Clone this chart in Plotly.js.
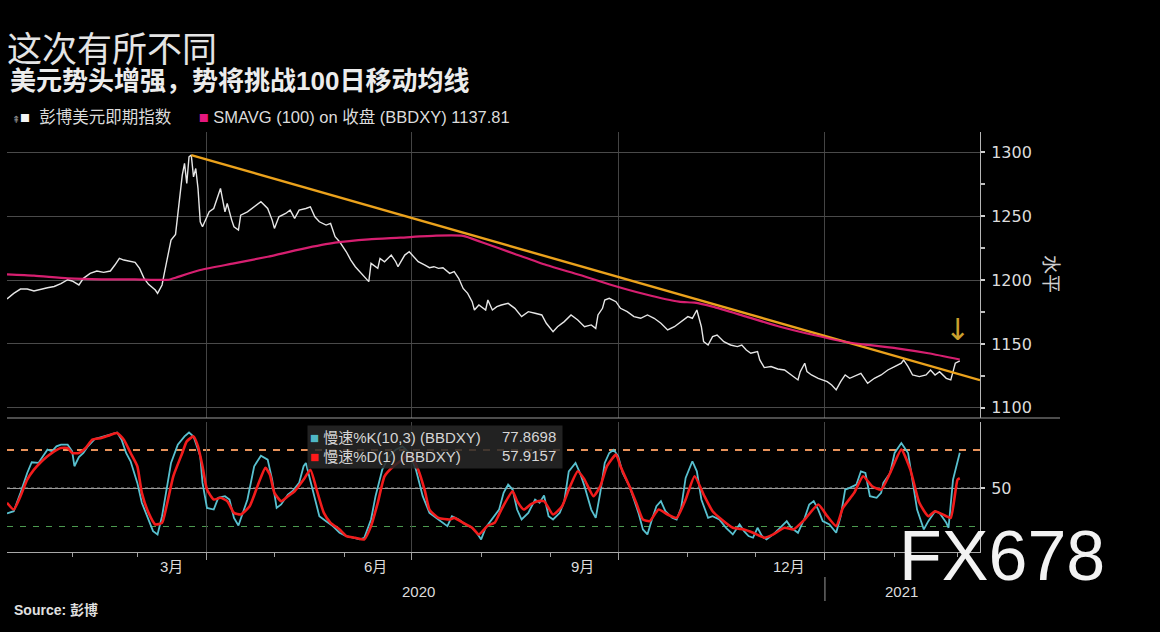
<!DOCTYPE html>
<html><head><meta charset="utf-8">
<script src="https://cdn.plot.ly/plotly-3.0.1.min.js"></script>
<style>html,body{margin:0;padding:0;background:#000;}#chart{width:1160px;height:632px;}</style>
</head><body><div id="chart"></div>
<script>
// ---------------- data ----------------
const priceDates = ['2020-01-03','2020-01-06','2020-01-09','2020-01-12','2020-01-15','2020-01-18','2020-01-21','2020-01-24','2020-01-27','2020-01-30',
'2020-02-01','2020-02-04','2020-02-06','2020-02-09','2020-02-12','2020-02-15','2020-02-18','2020-02-20','2020-02-22','2020-02-24','2020-02-27','2020-02-29',
'2020-03-02','2020-03-04','2020-03-06','2020-03-09','2020-03-10','2020-03-12','2020-03-13','2020-03-15','2020-03-16','2020-03-18','2020-03-19','2020-03-20',
'2020-03-21','2020-03-22','2020-03-23','2020-03-24','2020-03-25','2020-03-26','2020-03-27','2020-03-28','2020-03-29','2020-03-30',
'2020-04-01','2020-04-02','2020-04-04','2020-04-06','2020-04-07','2020-04-09','2020-04-10','2020-04-12','2020-04-13','2020-04-15','2020-04-16','2020-04-19',
'2020-04-21','2020-04-23','2020-04-25','2020-04-28','2020-04-30','2020-05-01','2020-05-03','2020-05-06','2020-05-08','2020-05-10','2020-05-12','2020-05-15',
'2020-05-17','2020-05-19','2020-05-21','2020-05-24','2020-05-26','2020-05-28','2020-05-30','2020-06-02','2020-06-04','2020-06-06','2020-06-08','2020-06-10',
'2020-06-12','2020-06-13','2020-06-16','2020-06-17','2020-06-19','2020-06-22','2020-06-24','2020-06-25','2020-06-28','2020-06-30',
'2020-07-02','2020-07-04','2020-07-07','2020-07-09','2020-07-11','2020-07-13','2020-07-15','2020-07-18','2020-07-20','2020-07-22','2020-07-24','2020-07-26',
'2020-07-28','2020-07-29','2020-07-31','2020-08-03','2020-08-04','2020-08-06','2020-08-08','2020-08-10','2020-08-13','2020-08-16','2020-08-19','2020-08-22',
'2020-08-25','2020-08-28','2020-08-30','2020-09-02','2020-09-04','2020-09-07','2020-09-10','2020-09-13','2020-09-16','2020-09-19','2020-09-21','2020-09-22',
'2020-09-24','2020-09-25','2020-09-27','2020-09-30','2020-10-02','2020-10-05','2020-10-08','2020-10-11','2020-10-14','2020-10-17','2020-10-20','2020-10-23',
'2020-10-26','2020-10-29','2020-11-01','2020-11-03','2020-11-05','2020-11-07','2020-11-08','2020-11-10','2020-11-12','2020-11-14','2020-11-17','2020-11-20',
'2020-11-23','2020-11-25','2020-11-27','2020-11-29','2020-12-02','2020-12-03','2020-12-05','2020-12-08','2020-12-11','2020-12-14','2020-12-17','2020-12-20',
'2020-12-21','2020-12-23','2020-12-24','2020-12-26','2020-12-29','2021-01-02','2021-01-04','2021-01-06','2021-01-08','2021-01-10','2021-01-12','2021-01-15',
'2021-01-17','2021-01-20','2021-01-23','2021-01-26','2021-01-29','2021-02-01','2021-02-04','2021-02-05','2021-02-07','2021-02-09','2021-02-12','2021-02-15',
'2021-02-17','2021-02-19','2021-02-21','2021-02-24','2021-02-26','2021-02-27','2021-02-28','2021-03-02'];
const priceValues = [1185.2,1189.6,1193.0,1193.0,1191.5,1193.0,1194.0,1195.0,1197.2,1200.3,
1199.3,1196.2,1201.4,1205.3,1207.1,1206.1,1207.1,1211.8,1217.0,1215.7,1214.4,1213.9,
1209.2,1201.4,1196.7,1192.2,1189.6,1196.2,1205.3,1224.9,1231.4,1235.8,1252.2,1269.2,
1282.2,1291.4,1275.7,1296.6,1297.9,1280.9,1287.4,1271.8,1245.7,1241.8,
1249.6,1253.5,1256.1,1266.6,1271.8,1253.5,1260.0,1247.0,1241.8,1239.2,1250.9,1253.5,
1256.1,1259.3,1261.4,1256.1,1247.0,1240.5,1249.6,1252.2,1254.8,1248.3,1254.8,1256.1,
1257.4,1249.6,1245.7,1243.1,1244.4,1234.0,1230.1,1222.2,1215.7,1210.5,1206.6,1202.7,
1198.8,1213.1,1209.2,1217.0,1214.4,1219.6,1214.4,1210.5,1219.6,1222.2,
1218.3,1214.4,1211.8,1209.7,1210.5,1209.2,1209.7,1205.3,1206.6,1201.4,1193.5,1189.6,
1183.1,1176.6,1180.5,1176.6,1184.4,1176.6,1179.2,1180.5,1181.8,1177.9,1171.4,1175.3,
1174.0,1172.7,1166.2,1159.6,1163.5,1167.5,1172.7,1168.8,1163.5,1164.9,1162.2,1172.7,
1177.9,1184.4,1185.7,1183.1,1177.9,1175.3,1171.4,1170.1,1172.7,1170.1,1166.2,1161.0,
1163.5,1167.5,1171.4,1170.1,1176.6,1163.5,1151.8,1149.2,1155.7,1157.0,1151.8,1149.2,
1147.9,1149.2,1145.3,1142.7,1144.0,1137.5,1131.5,1132.3,1130.4,1129.6,1125.7,1121.8,
1128.3,1134.9,1128.3,1125.7,1123.1,1120.5,1117.9,1114.0,1120.5,1125.7,1123.1,1125.7,
1127.0,1119.2,1123.1,1125.7,1129.6,1132.3,1134.9,1137.5,1132.3,1125.7,1124.4,1125.7,
1129.6,1125.7,1128.3,1123.1,1121.8,1128.3,1134.9,1136.7];

const smaDates = ['2020-01-03','2020-01-15','2020-01-30','2020-02-14','2020-02-29','2020-03-15','2020-03-18','2020-03-29','2020-04-13','2020-04-28',
'2020-05-13','2020-05-28','2020-06-12','2020-06-26','2020-07-12','2020-07-24','2020-08-01','2020-08-16','2020-08-30','2020-09-14','2020-09-28',
'2020-10-13','2020-10-28','2020-11-04','2020-11-12','2020-11-27','2020-12-12','2020-12-27','2021-01-11','2021-01-18','2021-02-02','2021-02-16','2021-03-02'];
const smaValues = [1204.5,1203.5,1201.4,1200.6,1200.6,1200.3,1201.9,1207.9,1213.1,1218.3,
1224.3,1229.3,1231.9,1233.2,1234.8,1234.6,1229.8,1220.5,1211.8,1204.0,1196.2,
1188.9,1183.1,1182.3,1179.2,1171.4,1163.5,1157.0,1151.3,1149.7,1146.6,1142.7,1137.8];

const trendDates = ['2020-03-25','2021-03-11'];
const trendValues = [1297.9, 1121.6];

const kDates = ['2020-01-03','2020-01-06','2020-01-09','2020-01-12','2020-01-14','2020-01-17','2020-01-19','2020-01-21','2020-01-23','2020-01-25','2020-01-27','2020-01-30',
'2020-02-01','2020-02-02','2020-02-04','2020-02-06','2020-02-08','2020-02-11','2020-02-14','2020-02-17','2020-02-21','2020-02-23','2020-02-25','2020-02-27',
'2020-03-01','2020-03-03','2020-03-06','2020-03-08','2020-03-10','2020-03-12','2020-03-14','2020-03-16','2020-03-19','2020-03-22','2020-03-24','2020-03-26',
'2020-03-29','2020-03-30','2020-04-01','2020-04-04','2020-04-06','2020-04-09','2020-04-11','2020-04-13','2020-04-15','2020-04-17','2020-04-19','2020-04-22',
'2020-04-25','2020-04-28','2020-04-30','2020-05-02','2020-05-04','2020-05-07','2020-05-09','2020-05-12','2020-05-14','2020-05-15','2020-05-18','2020-05-21',
'2020-05-24','2020-05-27','2020-05-30','2020-06-02','2020-06-05','2020-06-08','2020-06-10','2020-06-13','2020-06-15','2020-06-18','2020-06-21','2020-06-24',
'2020-06-27','2020-06-30','2020-07-03','2020-07-06','2020-07-09','2020-07-12','2020-07-15','2020-07-17','2020-07-19','2020-07-22','2020-07-25','2020-07-28',
'2020-07-30','2020-08-01','2020-08-03','2020-08-06','2020-08-09','2020-08-11','2020-08-13','2020-08-15','2020-08-17','2020-08-19','2020-08-22','2020-08-25',
'2020-08-27','2020-08-29','2020-08-31','2020-09-02','2020-09-05','2020-09-07','2020-09-09','2020-09-12','2020-09-14','2020-09-16','2020-09-19','2020-09-21',
'2020-09-23','2020-09-25','2020-09-27','2020-09-29','2020-10-01','2020-10-03','2020-10-06','2020-10-08','2020-10-10','2020-10-12','2020-10-14','2020-10-16',
'2020-10-18','2020-10-20','2020-10-22','2020-10-25','2020-10-27','2020-10-29','2020-10-31','2020-11-03','2020-11-05','2020-11-07','2020-11-10','2020-11-12',
'2020-11-15','2020-11-18','2020-11-21','2020-11-24','2020-11-26','2020-11-28','2020-11-30','2020-12-02','2020-12-04','2020-12-06','2020-12-09','2020-12-12',
'2020-12-15','2020-12-17','2020-12-20','2020-12-23','2020-12-25','2020-12-27','2020-12-29','2020-12-31','2021-01-03','2021-01-06','2021-01-08','2021-01-10',
'2021-01-12','2021-01-15','2021-01-17','2021-01-19','2021-01-21','2021-01-24','2021-01-26','2021-01-27','2021-01-30','2021-02-01','2021-02-04','2021-02-07',
'2021-02-09','2021-02-11','2021-02-14','2021-02-16','2021-02-19','2021-02-21','2021-02-24','2021-02-25','2021-02-27','2021-03-02'];
const kValues = [30.2,32.0,46.4,62.0,70.4,69.9,75.1,80.3,79.0,82.9,84.2,84.2,
79.0,67.3,74.5,77.7,82.9,88.6,90.2,92.0,93.8,88.1,77.7,71.2,
54.2,38.6,25.5,16.4,13.8,28.1,49.0,69.9,84.2,90.7,93.8,90.7,
75.1,54.2,34.6,33.3,42.5,43.8,41.2,26.8,20.8,30.7,41.2,67.3,
75.6,72.5,56.8,34.6,37.3,45.1,47.7,54.2,67.3,69.9,49.0,28.1,
24.2,20.3,15.1,12.5,11.2,9.9,11.2,25.5,43.8,64.6,75.1,80.3,
82.9,77.7,64.6,43.8,30.7,26.8,22.9,20.3,28.1,25.5,21.6,19.0,
15.1,9.9,19.0,26.0,33.3,46.4,52.9,49.0,33.3,25.5,30.7,41.2,
38.6,44.3,28.1,25.5,30.7,39.9,63.3,69.9,62.0,51.6,33.3,26.8,
46.4,69.9,77.7,80.3,75.1,62.0,51.6,41.2,30.7,17.7,13.8,25.5,
35.9,39.9,32.0,26.8,25.5,34.6,58.1,71.2,63.3,41.2,26.8,28.1,
25.5,19.0,13.8,21.6,16.4,12.5,11.2,19.0,12.5,9.9,13.8,19.0,
24.2,19.0,15.1,26.8,37.3,39.9,33.3,24.2,21.6,15.1,28.1,49.0,
50.3,52.9,63.3,62.0,43.8,42.5,46.4,54.2,62.0,77.7,85.5,77.7,
56.8,33.3,17.7,24.2,32.0,30.7,22.9,19.0,56.8,77.9];

const dDates = ['2020-01-03','2020-01-06','2020-01-09','2020-01-12','2020-01-15','2020-01-18','2020-01-21','2020-01-24','2020-01-27','2020-01-30',
'2020-02-01','2020-02-04','2020-02-07','2020-02-10','2020-02-14','2020-02-17','2020-02-21','2020-02-24','2020-02-27',
'2020-03-01','2020-03-03','2020-03-06','2020-03-09','2020-03-12','2020-03-14','2020-03-17','2020-03-21','2020-03-23','2020-03-26','2020-03-28','2020-03-30',
'2020-04-01','2020-04-04','2020-04-07','2020-04-10','2020-04-13','2020-04-16','2020-04-20','2020-04-24','2020-04-27','2020-04-29',
'2020-05-01','2020-05-04','2020-05-07','2020-05-10','2020-05-14','2020-05-17','2020-05-20','2020-05-23','2020-05-26','2020-05-30',
'2020-06-02','2020-06-06','2020-06-10','2020-06-13','2020-06-16','2020-06-19','2020-06-23','2020-06-27','2020-06-30',
'2020-07-04','2020-07-07','2020-07-09','2020-07-13','2020-07-18','2020-07-20','2020-07-24','2020-07-28','2020-07-31',
'2020-08-04','2020-08-07','2020-08-10','2020-08-15','2020-08-17','2020-08-20','2020-08-23','2020-08-26','2020-08-29',
'2020-09-02','2020-09-06','2020-09-09','2020-09-13','2020-09-16','2020-09-20','2020-09-23','2020-09-26','2020-09-30',
'2020-10-02','2020-10-06','2020-10-09','2020-10-12','2020-10-15','2020-10-19','2020-10-23','2020-10-27','2020-10-31',
'2020-11-04','2020-11-08','2020-11-12','2020-11-16','2020-11-21','2020-11-26','2020-11-30',
'2020-12-05','2020-12-09','2020-12-14','2020-12-18','2020-12-23','2020-12-29',
'2021-01-02','2021-01-06','2021-01-09','2021-01-14','2021-01-18','2021-01-22','2021-01-26','2021-01-30',
'2021-02-04','2021-02-08','2021-02-12','2021-02-16','2021-02-19','2021-02-24','2021-02-26','2021-03-01','2021-03-02'];
const dValues = [38.6,33.3,43.8,56.8,64.6,70.4,75.1,79.0,81.6,81.6,
77.7,77.7,81.6,88.1,89.4,91.2,93.3,88.1,77.7,
67.3,46.4,30.7,21.6,22.9,35.9,59.4,77.7,86.8,90.7,82.9,67.3,
49.0,41.2,42.5,39.9,30.7,29.4,35.9,54.2,66.0,60.7,
46.4,39.9,43.8,47.7,56.8,64.6,47.7,30.7,22.9,17.7,
12.5,11.2,9.9,20.3,38.6,59.4,67.3,72.5,77.7,
64.6,47.7,33.3,26.8,25.5,26.8,22.9,19.0,13.8,
20.8,22.9,33.3,47.7,39.9,33.3,37.3,39.9,39.9,
29.4,35.9,49.0,63.3,56.8,43.8,51.6,67.3,76.4,
67.3,51.6,38.6,25.5,24.2,33.3,29.4,26.8,41.2,
59.4,45.1,32.0,25.5,19.0,17.7,15.1,
11.2,13.8,19.0,17.7,25.5,37.3,
28.1,20.3,34.6,46.4,59.4,51.6,49.0,62.0,
80.3,64.6,38.6,28.1,32.0,28.1,26.8,56.8,57.9];

const priceTicks = [1100, 1150, 1200, 1250, 1300];
const stochTicks = [50];
const overboughtLevel = 80;
const middleLevel = 50;
const oversoldLevel = 20;
const quarterDates = ['2020-04-01','2020-07-01','2020-10-01','2021-01-01'];
const monthLabelDates = ['2020-03-16','2020-06-15','2020-09-15','2020-12-16'];
const monthLabels = ['3月','6月','9月','12月'];
const yearLabelDates = ['2020-07-04','2021-02-04'];
const yearLabels = ['2020','2021'];
const lastK = '77.8698';
const lastD = '57.9157';
const lastSma = '1137.81';
const arrowDate = '2021-03-01';
const arrowLevel = 1161;

// ---------------- layout helpers ----------------
const W = 1160, H = 632, L = 7, R = 180, T = 132, B = 80;
const px = x => (x - L) / (W - L - R);
const py = y => (H - B - y) / (H - T - B);

const CJK = 'Liberation Sans, Noto Sans CJK SC, sans-serif';
const txt = '#dcdcdc';

const traces = [
  {x: priceDates, y: priceValues, type: 'scatter', mode: 'lines', xaxis: 'x', yaxis: 'y',
   line: {color: '#e6e6e6', width: 1.4}, hoverinfo: 'skip'},
  {x: trendDates, y: trendValues, type: 'scatter', mode: 'lines', xaxis: 'x', yaxis: 'y',
   line: {color: '#eba21c', width: 2.4}, hoverinfo: 'skip'},
  {x: smaDates, y: smaValues, type: 'scatter', mode: 'lines', xaxis: 'x', yaxis: 'y',
   line: {color: '#e8227a', width: 2.2, shape: 'spline', smoothing: 0.6}, opacity: 0.92, hoverinfo: 'skip'},
  {x: kDates, y: kValues, type: 'scatter', mode: 'lines', xaxis: 'x', yaxis: 'y2',
   line: {color: '#58c0cf', width: 1.8}, hoverinfo: 'skip'},
  {x: dDates, y: dValues, type: 'scatter', mode: 'lines', xaxis: 'x', yaxis: 'y2',
   line: {color: '#f21c1c', width: 2.6, shape: 'spline', smoothing: 0.5}, hoverinfo: 'skip'}
];

const shapes = [
  {type: 'line', xref: 'paper', x0: 0, x1: 1, yref: 'y2', y0: overboughtLevel, y1: overboughtLevel,
   line: {color: '#e8925a', width: 2, dash: '7px,7px'}, layer: 'below'},
  {type: 'line', xref: 'paper', x0: 0, x1: 1, yref: 'y2', y0: oversoldLevel, y1: oversoldLevel,
   line: {color: '#4c9a50', width: 1.2, dash: '6px,7px'}, layer: 'below'},
  {type: 'line', xref: 'paper', x0: 0, x1: 1, yref: 'y2', y0: middleLevel, y1: middleLevel,
   line: {color: '#f0f0f0', width: 1.5, dash: 'dot'}, layer: 'below', opacity: 0.6},
  {type: 'line', xref: 'paper', x0: 0, x1: px(1060), yref: 'paper', y0: py(418), y1: py(418),
   line: {color: '#9a9a9a', width: 1}},
  {type: 'line', xref: 'x', x0: quarterDates[3], x1: quarterDates[3], yref: 'paper', y0: py(577), y1: py(601),
   line: {color: '#9a9a9a', width: 1}}
];

const annotations = [
  {xref: 'paper', yref: 'paper', x: px(8), y: py(81), xanchor: 'left', yanchor: 'middle', showarrow: false,
   text: '<b>美元势头增强，势将挑战100日移动均线</b>', font: {family: CJK, size: 26, color: '#ececec'}},
  {xref: 'paper', yref: 'paper', x: px(10), y: py(117), xanchor: 'left', yanchor: 'middle', showarrow: false,
   text: '<span style="color:#8c8c8c;font-size:10px">⇞</span><span style="color:#f5f5f5">■</span>&nbsp; 彭博美元即期指数&nbsp;&nbsp;&nbsp;&nbsp;&nbsp;&nbsp;<span style="color:#e5177e">■</span> SMAVG (100) on 收盘 (BBDXY) ' + lastSma,
   font: {family: CJK, size: 16.5, color: txt}},
  {xref: 'paper', yref: 'paper', x: px(1051), y: py(274), xanchor: 'center', yanchor: 'middle', showarrow: false,
   text: '水平', textangle: 90, font: {family: CJK, size: 19, color: '#cfcfcf'}},
  {xref: 'paper', yref: 'paper', x: px(307), y: py(425), xanchor: 'left', yanchor: 'top', showarrow: false,
   align: 'left', width: 250, height: 38, borderpad: 2, bgcolor: 'rgba(40,40,40,0.86)',
   text: '<span style="color:#4fb7c6">■</span> 慢速%K(10,3) (BBDXY)<br><span style="color:#ff1a1a">■</span> 慢速%D(1) (BBDXY)',
   font: {family: CJK, size: 15, color: '#d6d6d6'}},
  {xref: 'paper', yref: 'paper', x: px(558), y: py(436), xanchor: 'right', yanchor: 'middle', showarrow: false,
   text: lastK, font: {family: CJK, size: 15, color: '#d6d6d6'}},
  {xref: 'paper', yref: 'paper', x: px(558), y: py(455), xanchor: 'right', yanchor: 'middle', showarrow: false,
   text: lastD, font: {family: CJK, size: 15, color: '#d6d6d6'}},
  {xref: 'x', yref: 'y', x: arrowDate, y: arrowLevel, xanchor: 'center', yanchor: 'middle', showarrow: false,
   text: '↓', font: {family: 'DejaVu Sans', size: 30, color: '#c9a02e'}},
  {xref: 'paper', yref: 'paper', x: px(12), y: py(610), xanchor: 'left', yanchor: 'middle', showarrow: false,
   text: '<b>Source: 彭博</b>', font: {family: CJK, size: 14, color: '#e0e0e0'}},
  {xref: 'paper', yref: 'paper', x: px(1002), y: py(556), xanchor: 'center', yanchor: 'middle', showarrow: false,
   text: 'FX678', font: {family: 'Liberation Sans, Arial', size: 70, color: '#f2f2f2'}}
];
monthLabelDates.forEach((d, i) => annotations.push({
  xref: 'x', yref: 'paper', x: d, y: py(566), xanchor: 'center', yanchor: 'middle', showarrow: false,
  text: monthLabels[i], font: {family: CJK, size: 15, color: txt}}));
yearLabelDates.forEach((d, i) => annotations.push({
  xref: 'x', yref: 'paper', x: d, y: py(591), xanchor: 'center', yanchor: 'middle', showarrow: false,
  text: yearLabels[i], font: {family: CJK, size: 15, color: txt}}));

const layout = {
  width: W, height: H,
  paper_bgcolor: '#000', plot_bgcolor: '#000',
  margin: {l: L, r: R, t: T, b: B, pad: 0},
  showlegend: false,
  title: {text: '这次有所不同', xref: 'container', yref: 'container', x: 7 / W, xanchor: 'left',
          y: 1 - 50 / H, yanchor: 'middle', font: {family: CJK, size: 35, color: '#e4e4e4'}},
  xaxis: {type: 'date', range: ['2020-01-03', '2021-03-11'], domain: [0, 1], anchor: 'y2',
          tickmode: 'array', tickvals: quarterDates, ticktext: quarterDates.map(() => ''),
          ticks: 'outside', ticklen: 7, tickcolor: '#a0a0a0',
          minor: {ticks: 'outside', ticklen: 4, tickcolor: '#a0a0a0', tickmode: 'linear', tick0: '2020-01-01', dtick: 'M1', showgrid: false},
          showline: true, linecolor: '#a8a8a8', linewidth: 1,
          showgrid: true, gridcolor: '#444', gridwidth: 1, zeroline: false, fixedrange: true},
  yaxis: {domain: [py(418), 1], anchor: 'x', side: 'right', range: [1092, 1316],
          tickmode: 'array', tickvals: priceTicks, ticks: 'outside', ticklen: 4, tickwidth: 2, tickcolor: '#cfcfcf',
          minor: {ticks: 'outside', ticklen: 4, tickcolor: '#bdbdbd', dtick: 25, showgrid: false},
          ticklabelstandoff: 3,
          tickfont: {family: 'DejaVu Sans', size: 16, color: txt},
          showline: true, linecolor: '#b5b5b5', linewidth: 1,
          showgrid: true, gridcolor: '#4a4a4a', gridwidth: 1, zeroline: false, fixedrange: true},
  yaxis2: {domain: [0, py(422)], anchor: 'x', side: 'right', range: [0, 102],
          tickmode: 'array', tickvals: stochTicks, ticks: 'outside', ticklen: 4, tickwidth: 2, tickcolor: '#cfcfcf',
          ticklabelstandoff: 3,
          tickfont: {family: 'DejaVu Sans', size: 16, color: txt},
          showline: true, linecolor: '#b5b5b5', linewidth: 1,
          showgrid: true, gridcolor: '#9a9a9a', gridwidth: 1, zeroline: false, fixedrange: true},
  shapes: shapes,
  annotations: annotations
};

Plotly.newPlot('chart', traces, layout, {displayModeBar: false, staticPlot: true});
</script>
</body></html>
